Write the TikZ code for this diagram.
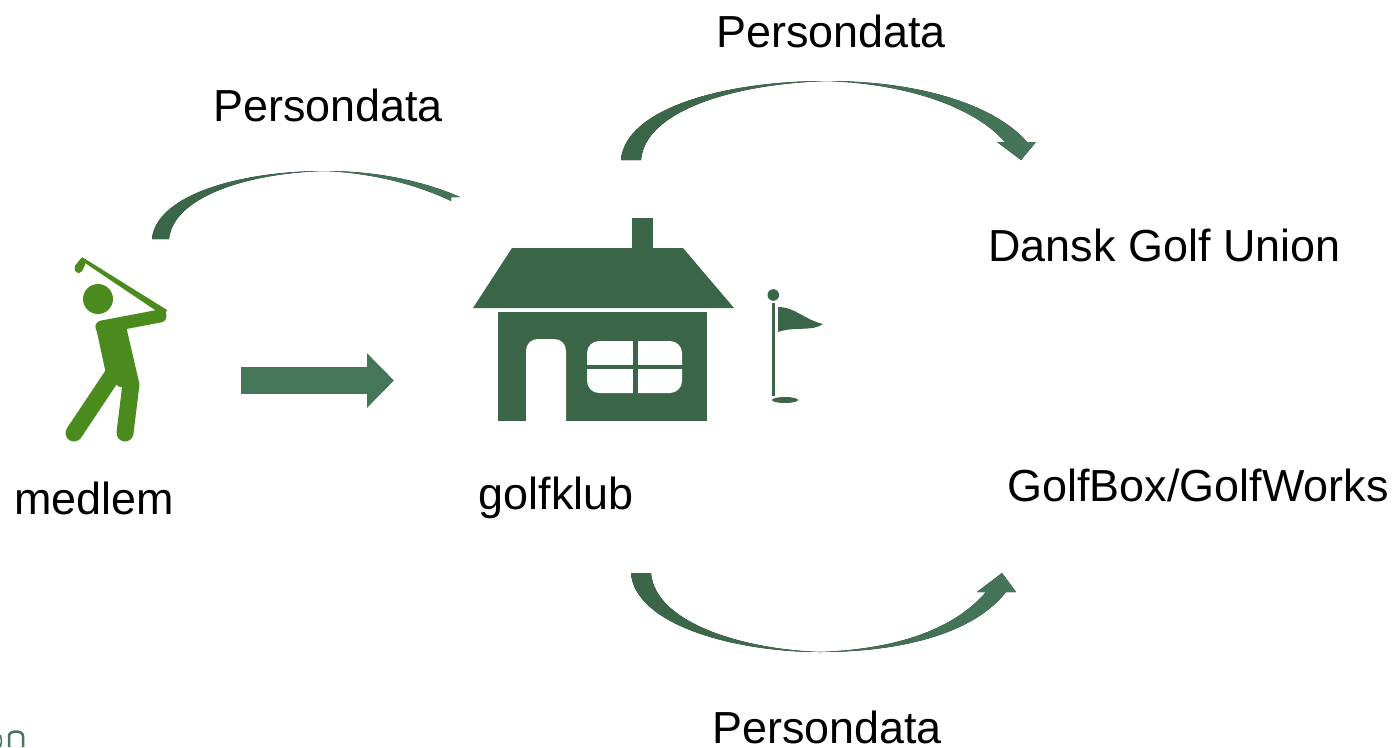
\documentclass[tikz,border=0pt]{standalone}
\usepackage{fontspec}
\setmainfont{Liberation Sans}
\usetikzlibrary{arrows.meta}
\definecolor{clubgreen}{HTML}{3A6547}
\definecolor{arrowgreen}{HTML}{457659}
\definecolor{golfergreen}{HTML}{4B8B1D}
\tikzstyle{txt} = [inner sep=0pt, font=\fontsize{44.9}{50}\selectfont]
\tikzstyle{curved} = [left color=clubgreen, right color=arrowgreen]
\tikzstyle{limb} = [draw=golfergreen, line cap=round, line join=round]

\begin{document}
\begin{tikzpicture}[x=1pt, y=-1pt]
    \useasboundingbox (0,0) rectangle (1397,747);

    \node (p1) [txt] at (831,31) {Persondata};
    \node (p2) [txt] at (328,105) {Persondata};
    \node (p3) [txt] at (827,727) {Persondata};
    \node (dgu) [txt] at (1164.5,245) {Dansk Golf Union};
    \node (box) [txt] at (1198,485) {GolfBox/GolfWorks};
    \node (medlem) [txt] at (94,498) {medlem};
    \node (klub) [txt] at (556,498) {golfklub};

    % ends of the arrows
    \coordinate (a0) at (241,380.5);
    \coordinate (a1) at (394,380.5);
    \coordinate (t1) at (827,81);
    \coordinate (t2) at (820,652);
    \coordinate (t3) at (325,171);

    % straight arrow
    \draw [-{Triangle[length=27pt, width=53pt]}, line width=27pt, arrowgreen] (a0) -- (a1);

    % top right
    \fill [curved] (621,160) .. controls (625,110) and (720,81) .. (t1)
        .. controls (920,81) and (995,105) .. (1027,142) -- (1036,142) -- (1021,160) -- (997,142) -- (1005,142)
        .. controls (975,108) and (910,84) .. (t1)
        .. controls (730,84) and (645,112) .. (641,160) -- cycle;

    % bottom
    \fill [curved] (631,573) .. controls (635,625) and (735,652) .. (t2)
        .. controls (905,652) and (975,632) .. (1006,592) -- (1016,592) -- (1002,573) -- (977,592) -- (986,592)
        .. controls (955,628) and (900,649) .. (t2)
        .. controls (740,649) and (655,622) .. (651,573) -- cycle;

    % left
    \fill [curved] (152,239) .. controls (156,195) and (240,171) .. (t3)
        .. controls (380,171) and (425,182) .. (460,197) -- (451,197) -- (451,201)
        .. controls (420,186) and (375,173) .. (t3)
        .. controls (245,173) and (173,198) .. (169,239) -- cycle;

    % golfer
    \fill [golfergreen] (98,299) circle (15);
    \fill [golfergreen] (82,257) -- (167,310) -- (164,316) -- (85,263) -- cycle;
    \fill [golfergreen, rounded corners=2pt] (74,267) -- (82,257) -- (86,263) -- (81,273) -- (76,273) -- cycle;
    \draw [limb, line width=13pt] (102,327) -- (160,316);
    \fill [golfergreen, rounded corners=3pt] (95,323) -- (126,326) -- (139,382) -- (120,388) -- (106,374) -- cycle;
    \draw [limb, line width=17pt] (112,376) -- (74,433);
    \draw [limb, line width=17pt] (131,384) -- (125,433);

    % club house
    \fill [clubgreen] (632,218) rectangle (653,250);
    \fill [clubgreen] (512,248) -- (683,248) -- (734,308) -- (473,308) -- cycle;
    \fill [clubgreen] (498,312) rectangle (707,421);
    \fill [white] (526,422) -- (526,351) .. controls (526,344) and (531,339) .. (538,339) -- (554,339)
        .. controls (561,339) and (566,344) .. (566,351) -- (566,422) -- cycle;
    \fill [white, rounded corners=12pt] (587,341) rectangle (682,393);
    \fill [clubgreen] (633,340) rectangle (638,394);
    \fill [clubgreen] (586,365) rectangle (683,369);

    % flag
    \fill [clubgreen] (773.3,295) circle (5.8);
    \fill [clubgreen] (772,303) rectangle (774.5,396);
    \fill [clubgreen] (778,307) .. controls (795,307) and (805,320) .. (823,324)
        .. controls (812,332) and (795,326) .. (778,332) -- cycle;
    \fill [clubgreen] (785,400) ellipse (13 and 3);

    % cut off text at the border
    \draw [arrowgreen, line width=2.5pt] (9,747) -- (9,736) .. controls (9,730) and (23,730) .. (23,736) -- (23,747);
    \draw [arrowgreen, line width=1.5pt] (0.5,735) -- (1.5,741) -- (0.5,747);
\end{tikzpicture}
\end{document}
